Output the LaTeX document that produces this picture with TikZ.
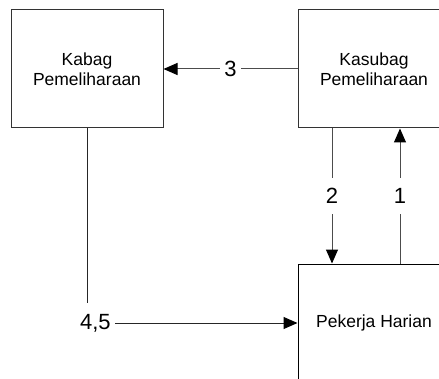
\documentclass[tikz,border=0pt]{standalone}
\usepackage{fontspec}
\setmainfont{Liberation Sans}
\usetikzlibrary{arrows.meta}
\begin{document}
\begin{tikzpicture}[x=1pt,y=1pt,
  box/.style={draw=black!80,line width=1pt,fill=white,minimum width=152pt,minimum height=118pt,
    align=center,font=\fontsize{17.5}{19.5}\selectfont,inner sep=0pt},
  conn/.style={draw=black!70,line width=1pt,-{Triangle[length=14pt,width=12pt,color=black]}},
  lbl/.style={fill=white,font=\fontsize{22}{24}\selectfont,inner xsep=4pt,minimum height=36pt,text=black}]
  \useasboundingbox (0,0) rectangle (439,378);
  \clip (0,0) rectangle (439,378);

  % three units
  \node[box] (kabag) at (87,309) {Kabag\\Pemeliharaan};
  \node[box] (kasubag) at (374,309) {Kasubag\\Pemeliharaan};
  \node[box,draw=black] (pek) at (374,55) {Pekerja Harian};

  % flows between the units
  \draw[conn] (kasubag.west) -- node[lbl]{3} (kabag.east);
  \draw[conn] ([xshift=-42pt]kasubag.south) -- node[lbl]{2} ([xshift=-42pt]pek.north);
  \draw[conn] ([xshift=26pt]pek.north) -- node[lbl]{1} ([xshift=26pt]kasubag.south);
  \draw[conn,draw=black!85] (kabag.south) |- node[lbl,pos=0.52,minimum height=40pt]{4,5} (pek.west);
\end{tikzpicture}
\end{document}
